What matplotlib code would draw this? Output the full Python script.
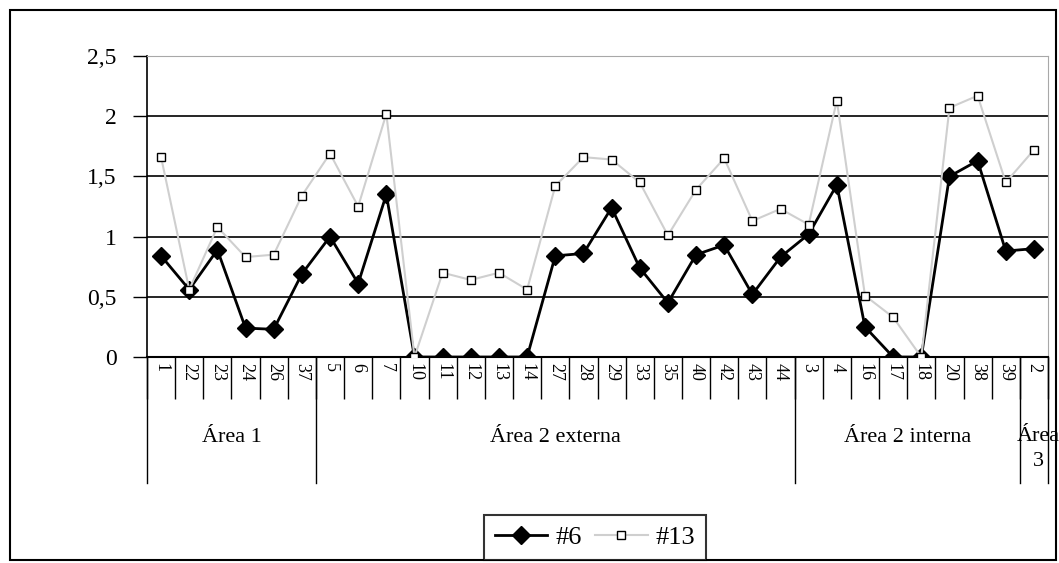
import matplotlib
matplotlib.use("Agg")
import matplotlib.pyplot as plt
from matplotlib.lines import Line2D
from matplotlib.patches import Rectangle
import matplotlib.transforms as mtransforms

plt.rcParams['font.family'] = ['Liberation Serif', 'DejaVu Serif']

# Sample ids along the x axis and their areas
samples = ['1', '22', '23', '24', '26', '37',
           '5', '6', '7', '10', '11', '12', '13', '14', '27', '28', '29', '33', '35', '40', '42', '43', '44',
           '3', '4', '16', '17', '18', '20', '38', '39',
           '2']
areas = ['Área 1', 'Área 2 externa', 'Área 2 interna', 'Área\n3']
area_sizes = [6, 17, 8, 1]

s6 = [0.84, 0.56, 0.89, 0.24, 0.23, 0.69,
      1.00, 0.61, 1.35, 0.00, 0.00, 0.00, 0.00, 0.00, 0.84, 0.86, 1.24, 0.74, 0.45, 0.85, 0.93, 0.52, 0.83,
      1.02, 1.43, 0.25, 0.00, 0.00, 1.50, 1.63, 0.88,
      0.90]
s13 = [1.66, 0.56, 1.08, 0.83, 0.85, 1.34,
       1.69, 1.25, 2.02, 0.00, 0.70, 0.64, 0.70, 0.56, 1.42, 1.66, 1.64, 1.45, 1.01, 1.39, 1.65, 1.13, 1.23,
       1.10, 2.13, 0.51, 0.33, 0.00, 2.07, 2.17, 1.45,
       1.72]

W, H = 1059, 563
fig = plt.figure(figsize=(W / 100, H / 100), dpi=100)
ax = fig.add_axes([147 / W, 1 - 357 / H, (1048 - 147) / W, (357 - 56) / H])

x = list(range(len(samples)))
ax.plot(x, s6, color='black', lw=2, marker='D', ms=9, mfc='black', mec='black', zorder=3)
ax.plot(x, s13, color='#cfcfcf', lw=1.5, marker='s', ms=6, mfc='white', mec='black', mew=1, zorder=4)

ax.set_xlim(-0.5, len(samples) - 0.5)
ax.set_ylim(0, 2.5)
ax.set_yticks([0, 0.5, 1, 1.5, 2, 2.5])
ax.set_yticklabels(['0', '0,5', '1', '1,5', '2', '2,5'], fontsize=17)
ax.tick_params(axis='y', length=10, width=1, pad=12)
for yv in [0.5, 1, 1.5, 2]:
    ax.axhline(yv, color='black', lw=1.2, zorder=1)

for side in ['top', 'right']:
    ax.spines[side].set_color('#a8a8a8')
ax.spines['left'].set_linewidth(1.2)
ax.spines['bottom'].set_linewidth(1.5)

# category labels and separators
ax.set_xticks(x)
ax.set_xticklabels(samples, rotation=270, fontsize=13)
ax.tick_params(axis='x', which='major', length=0, pad=4)
ax.set_xticks([i - 0.5 for i in range(len(samples) + 1)], minor=True)
ax.tick_params(axis='x', which='minor', length=30, width=1, direction='out', color='black')

trans = mtransforms.blended_transform_factory(ax.transData, ax.transAxes)
bounds = [0]
for n in area_sizes:
    bounds.append(bounds[-1] + n)
axh = (357 - 56)
for b in bounds:
    ax.add_line(Line2D([b - 0.5, b - 0.5], [0, -(483 - 357) / axh], transform=trans,
                       color='black', lw=1, clip_on=False))
for i, name in enumerate(areas):
    cx = (bounds[i] + bounds[i + 1] - 1) / 2
    if i == len(areas) - 1:
        ax.text(cx + 0.15, -(427 - 357) / axh, name, transform=trans, ha='center', va='top',
                fontsize=16, linespacing=1.4, clip_on=False)
    else:
        ax.text(cx, -(437 - 357) / axh, name, transform=trans, ha='center', va='center',
                fontsize=16, clip_on=False)

# outer chart frame
fig.patches.append(Rectangle((10 / W, 3 / H), 1046 / W, 550 / H, transform=fig.transFigure,
                             fill=False, edgecolor='black', lw=1.5))

handles = [Line2D([], [], color='black', lw=2, marker='D', ms=9, mfc='black', mec='black'),
           Line2D([], [], color='#cfcfcf', lw=1.5, marker='s', ms=6, mfc='white', mec='black')]
leg = fig.legend(handles, ['#6', '#13'], loc='lower center', bbox_to_anchor=(595 / W, 3 / H),
                 ncol=2, frameon=True, fancybox=False, edgecolor='black', fontsize=19,
                 handlelength=2.0, handletextpad=0.3, columnspacing=0.5, borderpad=0.4,
                 borderaxespad=0)
leg.get_frame().set_linewidth(1.5)

fig.savefig('out.png', dpi=100, facecolor='white')
